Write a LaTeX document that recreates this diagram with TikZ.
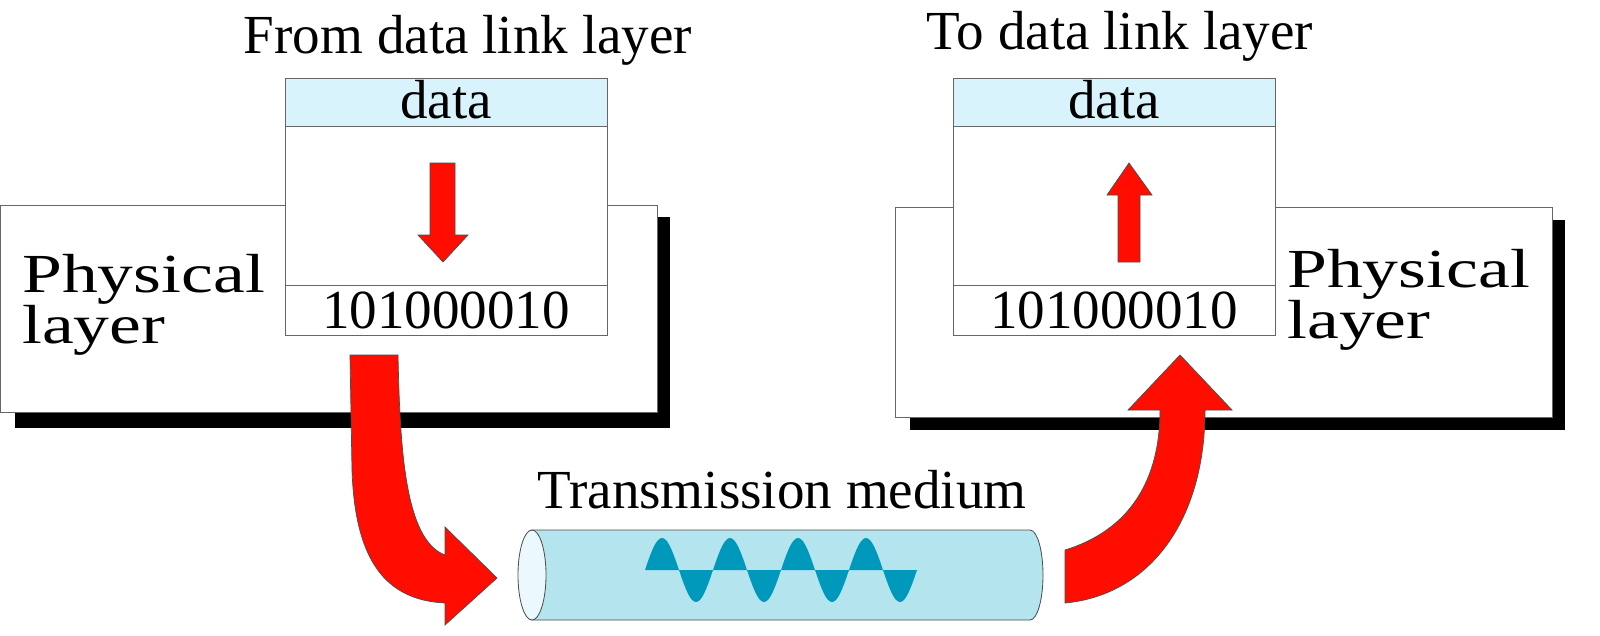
\documentclass[tikz,border=0pt]{standalone}
\usepackage{fontspec}
\setmainfont{Liberation Serif}
\definecolor{wave}{HTML}{0099BB}
\definecolor{tube}{HTML}{B4E4EE}
\begin{document}
\begin{tikzpicture}[x=0.03cm,y=-0.03cm,
  lbl/.style={font=\fontsize{47}{50}\selectfont,inner sep=0},
  big/.style={font=\fontsize{47}{42}\selectfont,inner sep=0,xscale=1.3,anchor=west,align=left},
  box/.style={draw=black!60,line width=0.8pt,fill=white},
  band/.style={draw=black!60,line width=0.8pt,fill=cyan!15},
  redarr/.style={fill=red!90!orange,draw=black!70,line width=0.6pt}]
\useasboundingbox (0,0) rectangle (1600,635);
% left
\fill[black] (15,217) rectangle (670,428);
\draw[box] (0,205) rectangle (657,412);
\draw[box] (285,126) rectangle (607,335);
\draw[band] (285,78) rectangle (607,126);
\draw[black!60,line width=0.8pt] (285,285) -- (607,285);
\node[lbl] (t1) at (468,40) {From data link layer};
\node[lbl] (d1) at (446,100) {data};
\node[lbl] (b1) at (446,310) {101000010};
\node[big] (p1) at (22,305) {Physical\\layer};
\draw[redarr] (430,163) -- (455,163) -- (455,235) -- (468,235) -- (443,262) -- (418,235) -- (430,235) -- cycle;
% right
\fill[black] (910,220) rectangle (1565,430);
\draw[box] (895,207) rectangle (1552,417);
\draw[box] (953,126) rectangle (1275,335);
\draw[band] (953,78) rectangle (1275,126);
\draw[black!60,line width=0.8pt] (953,285) -- (1275,285);
\node[lbl] (t2) at (1120,36) {To data link layer};
\node[lbl] (d2) at (1114,100) {data};
\node[lbl] (b2) at (1114,310) {101000010};
\node[big] (p2) at (1287,300) {Physical\\layer};
\draw[redarr] (1118,262) -- (1140,262) -- (1140,195) -- (1152,195) -- (1129,163) -- (1107,195) -- (1118,195) -- cycle;
% medium
\node[lbl] (tm) at (782,490) {Transmission medium};
\draw[fill=tube,draw=black!70,line width=0.7pt] (532,530) -- (1030,530) arc[x radius=13,y radius=45,start angle=-90,end angle=90] -- (532,620) arc[x radius=13,y radius=45,start angle=90,end angle=270] -- cycle;
\draw[fill=cyan!8,draw=black!70,line width=0.7pt] (532,575) ellipse[x radius=14,y radius=45];
\fill[wave] (645,570) foreach \i in {0,...,7} {
  plot[domain=0:180,samples=20] ({645+\i*34+\x/180*34},{570-(-1)^\i*32*sin(\x)}) } -- (917,570) -- cycle;
% curved arrows
\draw[redarr] (350,355) -- (398,355) .. controls (400,450) and (405,540) .. (445,555) -- (445,527) -- (497,578) -- (445,625) -- (445,603) .. controls (385,600) and (355,560) .. (352,470) -- cycle;
\draw[redarr] (1065,550) .. controls (1130,530) and (1160,480) .. (1160,410) -- (1128,410) -- (1180,355) -- (1232,410) -- (1205,410) .. controls (1205,520) and (1150,595) .. (1065,603) -- cycle;
\end{tikzpicture}
\end{document}
